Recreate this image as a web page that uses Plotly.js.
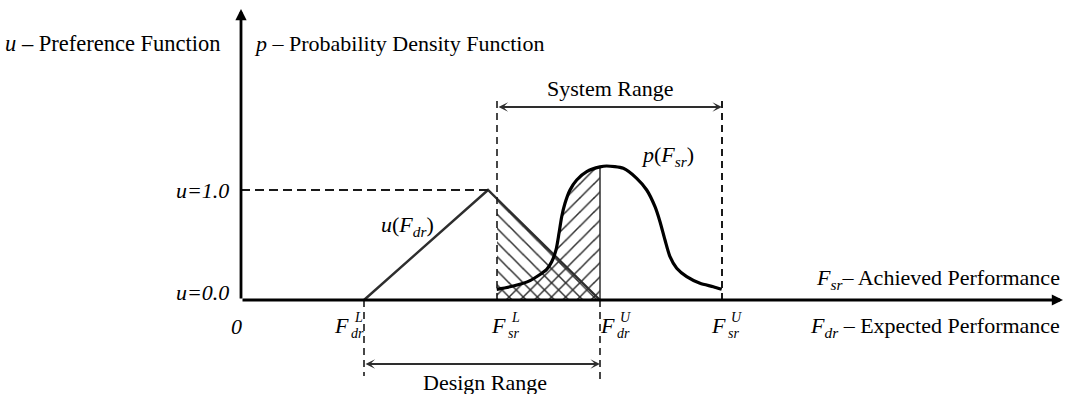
<!DOCTYPE html>
<html>
<head>
<meta charset="utf-8">
<script src="https://cdn.plot.ly/plotly-3.0.1.min.js"></script>
<style>html,body{margin:0;padding:0;background:#fff;}</style>
</head>
<body>
<div id="chart" style="width:1065px;height:394px;"></div>
<script>
// Bounds of the design range and the system range on the performance axis
const designRange = [1.23, 3.59];   // F_dr^L, F_dr^U
const systemRange = [2.56, 4.81];   // F_sr^L, F_sr^U

// Preference function u(F_dr): triangular, peaking at u = 1.0
const prefX = [1.23, 2.47, 3.59];
const prefU = [0, 1, 0];

// Probability density p(F_sr) across the system range
const pdfX = [2.557, 2.723, 2.89, 3.057, 3.107, 3.15, 3.18, 3.207, 3.24, 3.29, 3.357, 3.457, 3.59,
              3.657, 3.823, 3.957, 4.057, 4.14, 4.19, 4.24, 4.29, 4.357, 4.457, 4.59, 4.723, 4.807];
const pdfP = [0.097, 0.127, 0.176, 0.279, 0.348, 0.455, 0.606, 0.757, 0.879, 1.0, 1.091, 1.167, 1.21,
              1.218, 1.197, 1.106, 1.0, 0.848, 0.712, 0.545, 0.394, 0.288, 0.212, 0.152, 0.121, 0.097];

// Axis level marks
const uLevels = [0.0, 1.0];

// Pixel <-> data helpers for placing text (plot area fills the whole page)
const X = px => (px - 241) / 100;
const Y = py => (300 - py) / 110;

// Piecewise-linear preference function
function uAt(x) {
  for (let i = 0; i < prefX.length - 1; i++) {
    if (x >= prefX[i] && x <= prefX[i + 1]) {
      const t = (x - prefX[i]) / (prefX[i + 1] - prefX[i]);
      return prefU[i] + t * (prefU[i + 1] - prefU[i]);
    }
  }
  return 0;
}

const ink = '#1a1a1a';
const grey = '#2e2e2e';
const serif = 'Liberation Serif, Times New Roman, serif';
const smooth = 0.7;

// Overlap region: from F_sr^L to F_dr^U
const lo = systemRange[0], hi = designRange[1];
const hatchUX = [lo, hi];
const hatchUY = [uAt(lo), uAt(hi)];
const hatchPX = [], hatchPY = [];
pdfX.forEach((x, i) => { if (x >= lo - 0.01 && x <= hi + 1e-9) { hatchPX.push(x); hatchPY.push(pdfP[i]); } });

const pdfAtHi = pdfP[pdfX.indexOf(hi)];

const traces = [
  { // hatch under the preference function
    x: hatchUX, y: hatchUY, mode: 'lines', fill: 'tozeroy',
    line: {width: 0, color: 'rgba(0,0,0,0)'}, fillcolor: 'rgba(0,0,0,0)',
    fillpattern: {shape: '\\', fgcolor: grey, bgcolor: 'rgba(0,0,0,0)', size: 10, solidity: 0.15},
    hoverinfo: 'skip'
  },
  { // hatch under the density
    x: hatchPX, y: hatchPY, mode: 'lines', fill: 'tozeroy',
    line: {width: 0, color: 'rgba(0,0,0,0)', shape: 'spline', smoothing: smooth}, fillcolor: 'rgba(0,0,0,0)',
    fillpattern: {shape: '/', fgcolor: grey, bgcolor: 'rgba(0,0,0,0)', size: 10, solidity: 0.15},
    hoverinfo: 'skip'
  },
  { // right edge of the hatched area
    x: [hi, hi], y: [0, pdfAtHi], mode: 'lines',
    line: {width: 1.5, color: grey}, hoverinfo: 'skip'
  },
  { // u(F_dr)
    x: prefX, y: prefU, mode: 'lines',
    line: {width: 2.4, color: grey}, hoverinfo: 'skip'
  },
  { // p(F_sr)
    x: pdfX, y: pdfP, mode: 'lines',
    line: {width: 3.2, color: '#000', shape: 'spline', smoothing: smooth}, hoverinfo: 'skip'
  }
];

const dashed = (x0, y0, x1, y1, w, dash) => ({
  type: 'line', xref: 'x', yref: 'y', x0, y0, x1, y1,
  line: {color: ink, width: w, dash: dash || '7px,5px'}
});

const topGuide = Y(98), designLow = Y(376), designLow2 = Y(379);
const shapes = [
  dashed(0, uLevels[1], prefX[1], uLevels[1], 2, '9px,5px'),
  dashed(systemRange[0], 0, systemRange[0], topGuide, 1.6),
  dashed(systemRange[1], 0, systemRange[1], topGuide, 2),
  dashed(designRange[0], 0, designRange[0], designLow, 1.6),
  dashed(designRange[1], 0, designRange[1], designLow2, 1.6)
];

const ann = [];
const txt = (px, py, text, size, xanchor) => ann.push({
  x: X(px), y: Y(py), xref: 'x', yref: 'y', text, showarrow: false,
  xanchor: xanchor || 'center', yanchor: 'middle',
  font: {family: serif, size: size || 22, color: '#000'}
});
const arrow = (x, y, ax, ay, w, head, size, both) => ann.push({
  x, y, ax, ay, xref: 'x', yref: 'y', axref: 'x', ayref: 'y', text: '',
  showarrow: true, arrowhead: head, arrowsize: size, arrowwidth: w,
  arrowcolor: both ? grey : '#000', arrowside: both ? 'end+start' : 'end', standoff: 0, startstandoff: 0
});

// Axes
arrow(X(1063), 0, 0, 0, 2.8, 2, 0.8, false);
arrow(0, Y(9), 0, 0, 2.8, 2, 0.8, false);

// Range arrows
const sysY = Y(107), desY = Y(364);
arrow(systemRange[1], sysY, systemRange[0], sysY, 2, 3, 0.8, true);
arrow(designRange[1], desY, designRange[0], desY, 2, 3, 0.8, true);

// Titles
txt(3, 43, '<i>u</i> – Preference Function', 22.5, 'left');
txt(252, 43, '<i>p</i> – Probability Density Function', 22, 'left');
txt(610, 88, 'System Range', 22);
txt(485, 382, 'Design Range', 22);
txt(1062, 279, '<i>F</i><sub><i>sr</i></sub>– Achieved Performance', 22, 'right');
txt(1062, 327, '<i>F</i><sub><i>dr</i></sub> – Expected Performance', 22, 'right');

// Level labels
txt(231, 190, '<i>u=1.0</i>', 22, 'right');
txt(231, 292, '<i>u=0.0</i>', 22, 'right');
txt(236, 326, '<i>0</i>', 22);

// Curve labels
txt(407, 226, '<i>u</i>(<i>F</i><sub><i>dr</i></sub>)', 22);
txt(667, 156, '<i>p</i>(<i>F</i><sub><i>sr</i></sub>)', 22);

// Bound labels with stacked super/subscripts
const bound = (fRight, sup, sub) => {
  txt(fRight, 325, '<i>F</i>', 22, 'right');
  txt(fRight + 1, 317, '<i>' + sup + '</i>', 14, 'left');
  txt(fRight - 2, 333, '<i>' + sub + '</i>', 14, 'left');
};
bound(351, 'L', 'dr');
bound(508, 'L', 'sr');
bound(617, 'U', 'dr');
bound(728, 'U', 'sr');

const layout = {
  width: 1065, height: 394,
  margin: {l: 0, r: 0, t: 0, b: 0},
  paper_bgcolor: '#fff', plot_bgcolor: '#fff',
  showlegend: false,
  xaxis: {range: [X(0), X(1065)], visible: false, fixedrange: true},
  yaxis: {range: [Y(394), Y(0)], visible: false, fixedrange: true},
  shapes, annotations: ann
};

Plotly.newPlot('chart', traces, layout, {staticPlot: true, displayModeBar: false});
</script>
</body>
</html>
